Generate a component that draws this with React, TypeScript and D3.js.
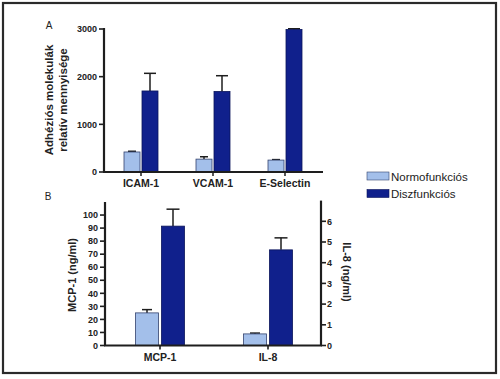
import React from "react";
import * as d3 from "d3";

const categoriesA = ["ICAM-1", "VCAM-1", "E-Selectin"];
const normoA = [420, 270, 250];
const normoAErr = [15, 50, 10];
const diszA = [1700, 1690, 2990];
const diszAErr = [370, 330, 15];
const ticksA = [0, 1000, 2000, 3000];

const categoriesB = ["MCP-1", "IL-8"];
const normoB = [25, 0.56];
const normoBErr = [2.5, 0.04];
const diszB = [91.5, 4.62];
const diszBErr = [13, 0.58];
const ticksBLeft = [0, 10, 20, 30, 40, 50, 60, 70, 80, 90, 100];
const ticksBRight = [0, 1, 2, 3, 4, 5, 6];

const seriesNames = ["Normofunkciós", "Diszfunkciós"];

const LIGHT = "#a3bfea";
const LIGHT_STROKE = "#34436e";
const DARK = "#10208c";
const DARK_STROKE = "#0a145a";
const AX = "#1e1e1e";
const FONT = "'Liberation Sans', Arial, sans-serif";

export default function App() {
  const xA = d3.scalePoint().domain(categoriesA).range([141, 285]);
  const yA = d3.scaleLinear().domain([0, 3000]).range([172, 29]);
  const barW = 16;
  const gapA = 2;

  const xB = d3.scalePoint().domain(categoriesB).range([160, 268]);
  const yL = d3.scaleLinear().domain([0, 110]).range([345.5, 202]);
  const yR = d3.scaleLinear().domain([0, 7]).range([345.5, 200.6]);
  const barWB = 23;
  const gapB = 3;
  const scalesB = [yL, yR];

  const errBar = (x: number, yTop: number, yErr: number, key: string, cap = 10) => (
    <g key={key} stroke={AX} strokeWidth={1.5}>
      <line x1={x} x2={x} y1={yTop} y2={yErr} />
      <line x1={x - cap / 2} x2={x + cap / 2} y1={yErr} y2={yErr} />
    </g>
  );

  return (
    <svg width={500} height={379} style={{ position: "absolute", left: 0, top: 0, background: "#fff" }} fontFamily={FONT}>
      <rect x={3} y={3} width={493} height={370} fill="#fff" stroke="#2a2a2a" strokeWidth={2.2} />

      {/* Panel A */}
      <text x={49} y={29} fontSize={10} fill="#222" textAnchor="middle">A</text>
      <g transform="translate(60,100) rotate(-90)">
        <text x={0} y={-7} fontSize={11.5} fontWeight="bold" textAnchor="middle" fill="#222">Adhéziós molekulák</text>
        <text x={0} y={7} fontSize={11.5} fontWeight="bold" textAnchor="middle" fill="#222">relatív mennyisége</text>
      </g>
      {categoriesA.map((c, i) => {
        const cx = xA(c)!;
        const x1 = cx - gapA / 2 - barW;
        const x2 = cx + gapA / 2;
        return (
          <g key={c}>
            {errBar(x1 + barW / 2, yA(normoA[i]), yA(normoA[i] + normoAErr[i]), c + "e1", 8)}
            {errBar(x2 + barW / 2, yA(diszA[i]), yA(diszA[i] + diszAErr[i]), c + "e2", 12)}
            <rect x={x1} y={yA(normoA[i])} width={barW} height={yA(0) - yA(normoA[i])} fill={LIGHT} stroke={LIGHT_STROKE} strokeWidth={0.8} />
            <rect x={x2} y={yA(diszA[i])} width={barW} height={yA(0) - yA(diszA[i])} fill={DARK} stroke={DARK_STROKE} strokeWidth={0.8} />
            <line x1={cx} x2={cx} y1={yA(0)} y2={yA(0) + 4} stroke={AX} strokeWidth={1.5} />
            <text x={cx} y={yA(0) + 15} fontSize={10.5} fontWeight="bold" textAnchor="middle" fill="#222">{c}</text>
          </g>
        );
      })}
      <line x1={104} x2={104} y1={yA(3000) - 1} y2={yA(0)} stroke={AX} strokeWidth={2.2} />
      <line x1={103} x2={323} y1={yA(0)} y2={yA(0)} stroke={AX} strokeWidth={2.2} />
      {ticksA.map((t) => (
        <g key={t}>
          <line x1={99} x2={104} y1={yA(t)} y2={yA(t)} stroke={AX} strokeWidth={1.6} />
          <text x={97} y={yA(t) + 3.2} fontSize={9} fontWeight="bold" textAnchor="end" fill="#222">{t}</text>
        </g>
      ))}

      {/* Legend */}
      {seriesNames.map((s, i) => (
        <g key={s}>
          <rect x={367} y={172 + i * 17.5} width={22} height={8} fill={i === 0 ? LIGHT : DARK} stroke={i === 0 ? LIGHT_STROKE : DARK_STROKE} strokeWidth={0.6} />
          <text x={391} y={180.5 + i * 17.5} fontSize={11.5} fill="#222">{s}</text>
        </g>
      ))}

      {/* Panel B */}
      <text x={48} y={200} fontSize={10} fill="#222" textAnchor="middle">B</text>
      <text transform="translate(76,275) rotate(-90)" fontSize={11} fontWeight="bold" textAnchor="middle" fill="#222">MCP-1 (ng/ml)</text>
      <text transform="translate(343,272) rotate(90)" fontSize={11} fontWeight="bold" textAnchor="middle" fill="#222">IL-8 (ng/ml)</text>
      {categoriesB.map((c, i) => {
        const cx = xB(c)!;
        const y = scalesB[i];
        const x1 = cx - gapB / 2 - barWB;
        const x2 = cx + gapB / 2;
        return (
          <g key={c}>
            {errBar(x1 + barWB / 2, y(normoB[i]), y(normoB[i] + normoBErr[i]), c + "e1", 10)}
            {errBar(x2 + barWB / 2, y(diszB[i]), y(diszB[i] + diszBErr[i]), c + "e2", 13)}
            <rect x={x1} y={y(normoB[i])} width={barWB} height={y(0) - y(normoB[i])} fill={LIGHT} stroke={LIGHT_STROKE} strokeWidth={0.8} />
            <rect x={x2} y={y(diszB[i])} width={barWB} height={y(0) - y(diszB[i])} fill={DARK} stroke={DARK_STROKE} strokeWidth={0.8} />
            <line x1={cx} x2={cx} y1={y(0)} y2={y(0) + 4} stroke={AX} strokeWidth={1.6} />
            <text x={cx} y={y(0) + 15} fontSize={10.5} fontWeight="bold" textAnchor="middle" fill="#222">{c}</text>
          </g>
        );
      })}
      <line x1={105} x2={105} y1={yL(110)} y2={yL(0)} stroke={AX} strokeWidth={2.2} />
      <line x1={321} x2={321} y1={yR(7)} y2={yR(0)} stroke={AX} strokeWidth={2.2} />
      <line x1={104} x2={322} y1={yL(0)} y2={yL(0)} stroke={AX} strokeWidth={2.2} />
      {ticksBLeft.map((t) => (
        <g key={"l" + t}>
          <line x1={100} x2={105} y1={yL(t)} y2={yL(t)} stroke={AX} strokeWidth={1.6} />
          <text x={98} y={yL(t) + 3.2} fontSize={9} fontWeight="bold" textAnchor="end" fill="#222">{t}</text>
        </g>
      ))}
      {ticksBRight.map((t) => (
        <g key={"r" + t}>
          <line x1={321} x2={326} y1={yR(t)} y2={yR(t)} stroke={AX} strokeWidth={1.6} />
          <text x={327} y={yR(t) + 3.2} fontSize={9} fontWeight="bold" textAnchor="start" fill="#222">{t}</text>
        </g>
      ))}
    </svg>
  );
}
